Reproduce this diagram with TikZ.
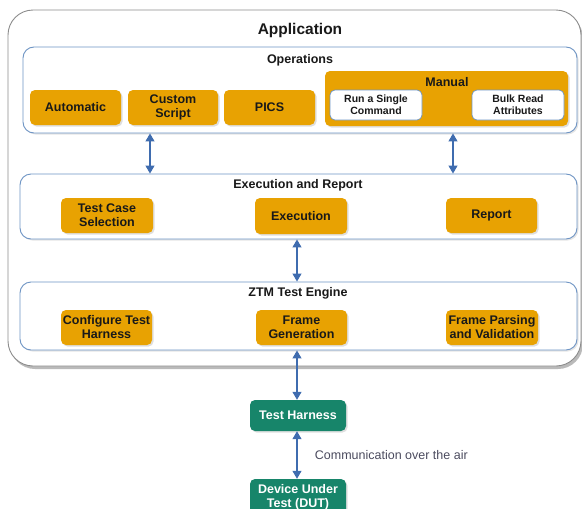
\documentclass[tikz,border=0pt]{standalone}
\usepackage{fontspec}
\setmainfont{Liberation Sans}
\usetikzlibrary{arrows.meta,shadows}
\definecolor{opsorange}{HTML}{E8A202}
\definecolor{harnessgreen}{HTML}{17856A}
\definecolor{layerblue}{HTML}{6E94C4}
\definecolor{linkblue}{HTML}{3F6CAF}
\definecolor{framegray}{HTML}{8C8C8C}
\definecolor{notegray}{HTML}{4B4B5E}

\tikzset{
  appbox/.style={draw=framegray,line width=0.9pt,rounded corners=25pt,fill=white,
    drop shadow={shadow xshift=2pt,shadow yshift=-3pt,fill=black!45,opacity=0.6}},
  layerbox/.style={draw=layerblue,line width=0.9pt,rounded corners=11pt,fill=white,
    drop shadow={shadow xshift=1.5pt,shadow yshift=-1.5pt,fill=black!20}},
  itembox/.style={fill=opsorange,rounded corners=5pt,inner sep=0pt,align=center,
    text=black!90,font=\fontsize{12.5}{14}\selectfont\bfseries,
    drop shadow={shadow xshift=1.5pt,shadow yshift=-1.5pt,fill=black!25}},
  subbox/.style={draw=layerblue,line width=0.7pt,fill=white,rounded corners=5pt,inner sep=0pt,
    align=center,text=black!90,font=\fontsize{10.5}{12}\selectfont\bfseries},
  greenbox/.style={fill=harnessgreen,rounded corners=5pt,inner sep=0pt,align=center,
    text=white,font=\fontsize{12.5}{14}\selectfont\bfseries,
    drop shadow={shadow xshift=1.5pt,shadow yshift=-1.5pt,fill=black!25}},
  heading/.style={font=\fontsize{12.5}{14}\selectfont\bfseries,text=black!90},
  biarrow/.style={linkblue,line width=1.1pt,
    {Triangle[width=9pt,length=8pt]}-{Triangle[width=9pt,length=8pt]}}
}

\begin{document}
\begin{tikzpicture}[x=1pt,y=-1pt]
\useasboundingbox (0,0) rectangle (582,509);

% application frame
\node[appbox,minimum width=573pt,minimum height=356pt] (app) at (294.5,188) {};
\node[font=\fontsize{15.5}{17}\selectfont\bfseries,text=black!90] (apptitle) at (300,30) {Application};

% operations
\node[layerbox,minimum width=554pt,minimum height=86pt] (ops) at (300,90) {};
\node[heading] (opstitle) at (300,60) {Operations};
\node[itembox,minimum width=91pt,minimum height=35pt] (auto) at (75.5,107.5) {Automatic};
\node[itembox,minimum width=90pt,minimum height=35pt] (custom) at (173,107.5) {Custom\\Script};
\node[itembox,minimum width=91pt,minimum height=35pt] (pics) at (269.5,107.5) {PICS};
\node[itembox,minimum width=243pt,minimum height=55pt] (manual) at (446.5,98.5) {};
\node[heading] (manualtitle) at (447,82) {Manual};
\node[subbox,minimum width=92pt,minimum height=30pt] (single) at (376,105) {Run a Single\\Command};
\node[subbox,minimum width=92pt,minimum height=30pt] (bulk) at (518,105) {Bulk Read\\Attributes};

% execution and report
\node[layerbox,minimum width=557pt,minimum height=65pt] (exec) at (298.5,206.5) {};
\node[heading] (exectitle) at (298,185) {Execution and Report};
\node[itembox,minimum width=92pt,minimum height=35pt] (select) at (107,215.5) {Test Case\\Selection};
\node[itembox,minimum width=92pt,minimum height=36pt] (run) at (301,216) {Execution};
\node[itembox,minimum width=91pt,minimum height=35pt] (report) at (491.5,215.5) {Report};

% test engine
\node[layerbox,minimum width=557pt,minimum height=68pt] (ztm) at (298.5,316) {};
\node[heading] (ztmtitle) at (298,293) {ZTM Test Engine};
\node[itembox,minimum width=91pt,minimum height=35pt] (config) at (106.5,327.5) {Configure Test\\Harness};
\node[itembox,minimum width=91pt,minimum height=35pt] (framegen) at (301.5,327.5) {Frame\\Generation};
\node[itembox,minimum width=92pt,minimum height=35pt] (frameparse) at (492,327.5) {Frame Parsing\\and Validation};

% outside the application
\node[greenbox,minimum width=96pt,minimum height=31pt] (harness) at (298,415.5) {Test Harness};
\node[greenbox,minimum width=96pt,minimum height=36pt] (dut) at (298,497) {Device Under\\Test (DUT)};

% links
\coordinate (leftlink) at (150,0);
\coordinate (rightlink) at (453,0);
\coordinate (midlink) at (297,0);
\draw[biarrow] (ops.south -| leftlink) -- (exec.north -| leftlink);
\draw[biarrow] (ops.south -| rightlink) -- (exec.north -| rightlink);
\draw[biarrow] (exec.south -| midlink) -- (ztm.north -| midlink);
\draw[biarrow] (ztm.south -| midlink) -- (harness.north -| midlink);
\draw[biarrow] (harness.south -| midlink) -- node[right=14pt,text=notegray,font=\fontsize{12.5}{14}\selectfont] (air) {Communication over the air} (dut.north -| midlink);
\end{tikzpicture}
\end{document}
